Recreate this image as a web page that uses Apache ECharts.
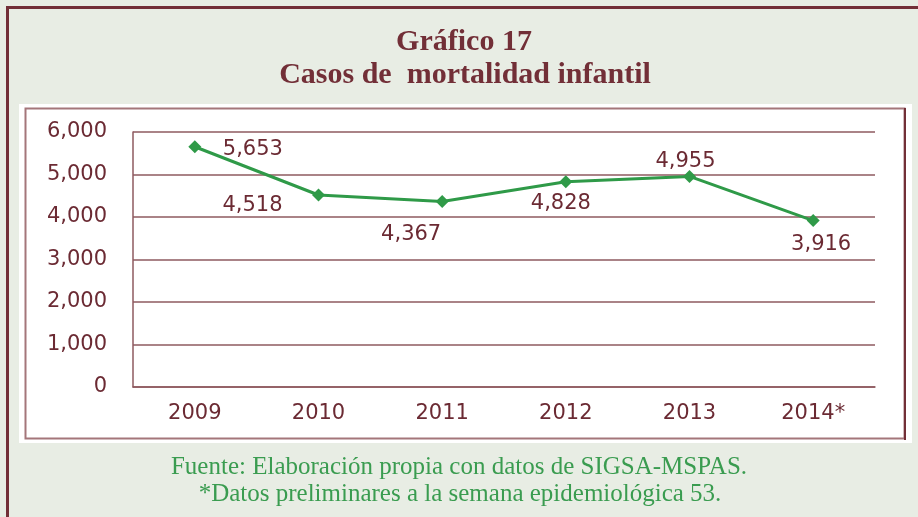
<!DOCTYPE html>
<html>
<head>
<meta charset="utf-8">
<script src="https://cdn.jsdelivr.net/npm/echarts@6/dist/echarts.min.js"></script>
<style>
html,body{margin:0;padding:0;background:#e8ede4;}
#c{width:918px;height:517px;}
</style>
</head>
<body>
<div id="c"></div>
<script>
const categories = ['2009', '2010', '2011', '2012', '2013', '2014*'];
const values = [5653, 4518, 4367, 4828, 4955, 3916];
const yTicks = { min: 0, max: 6000, interval: 1000 };
const titleLines = ['Gráfico 17', 'Casos de  mortalidad infantil'];
const footerLines = ['Fuente: Elaboración propia con datos de SIGSA-MSPAS.', '*Datos preliminares a la semana epidemiológica 53.'];
// label placement (styling only)
const labelOffsets = [[58, 3], [-66, 11], [-31, 33], [-5, 22], [-4, -15], [8, 24]];

const maroon = '#722f37';
const gridCol = '#8e5a5f';
const green = '#2f9a48';
const fmt = v => v.toLocaleString('en-US');

const chart = echarts.init(document.getElementById('c'), null, { renderer: 'canvas' });
chart.setOption({
  backgroundColor: '#e8ede4',
  animation: false,
  graphic: [
    { type: 'rect', shape: { x: 6, y: 6, width: 3, height: 520 }, style: { fill: maroon }, z: 0 },
    { type: 'rect', shape: { x: 6, y: 6, width: 920, height: 3 }, style: { fill: maroon }, z: 0 },
    { type: 'rect', shape: { x: 19, y: 104, width: 893, height: 339 }, style: { fill: '#ffffff' }, z: 0 },
    { type: 'rect', shape: { x: 25.5, y: 108.5, width: 879, height: 330 }, style: { fill: null, stroke: '#a4767a', lineWidth: 2 }, z: 1 },
    { type: 'rect', shape: { x: 904, y: 108, width: 2, height: 332 }, style: { fill: maroon }, z: 1 },
    { type: 'text', x: 464, y: 42, z: 5,
      style: { text: titleLines[0], fill: maroon, font: 'bold 30px "Liberation Serif", serif', align: 'center', verticalAlign: 'middle' } },
    { type: 'text', x: 465, y: 75, z: 5,
      style: { text: titleLines[1], fill: maroon, font: 'bold 30px "Liberation Serif", serif', align: 'center', verticalAlign: 'middle' } },
    { type: 'text', x: 459, y: 467, z: 5,
      style: { text: footerLines[0], fill: '#3a9c50', font: '25px "Liberation Serif", serif', align: 'center', verticalAlign: 'middle' } },
    { type: 'text', x: 460, y: 494, z: 5,
      style: { text: footerLines[1], fill: '#3a9c50', font: '25px "Liberation Serif", serif', align: 'center', verticalAlign: 'middle' } }
  ],
  grid: { left: 133, right: 43, top: 132, bottom: 130, containLabel: false },
  xAxis: {
    type: 'category',
    data: categories,
    boundaryGap: true,
    axisLine: { show: true, lineStyle: { color: gridCol, width: 1.5 } },
    axisTick: { show: false },
    axisLabel: { color: '#6b2a33', fontFamily: 'DejaVu Sans', fontSize: 21, margin: 16 },
    splitLine: { show: false }
  },
  yAxis: {
    type: 'value',
    min: yTicks.min, max: yTicks.max, interval: yTicks.interval,
    axisLine: { show: true, lineStyle: { color: gridCol, width: 1.5 } },
    axisTick: { show: false },
    axisLabel: { color: '#6b2a33', fontFamily: 'DejaVu Sans', fontSize: 21, margin: 26, formatter: v => fmt(v) },
    splitLine: { show: true, lineStyle: { color: gridCol, width: 1.5 } }
  },
  series: [{
    type: 'line',
    data: values.map((v, i) => ({
      value: v,
      label: { show: true, position: 'inside', offset: labelOffsets[i] }
    })),
    symbol: 'diamond',
    symbolSize: 13,
    lineStyle: { color: green, width: 3 },
    itemStyle: { color: green },
    label: { show: true, color: '#6b2a33', fontFamily: 'DejaVu Sans', fontSize: 21, formatter: p => fmt(p.value) },
    z: 3
  }]
});
</script>
</body>
</html>
